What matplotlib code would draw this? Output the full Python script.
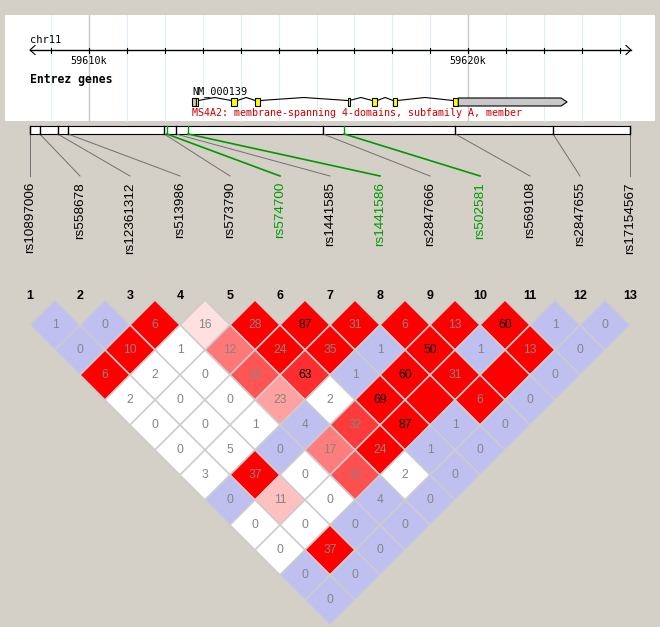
import matplotlib
matplotlib.use('Agg')
import matplotlib.pyplot as plt
from matplotlib.patches import Polygon, Rectangle

# SNPs, in LD-plot column order
snp_names = ['rs10897006', 'rs558678', 'rs12361312', 'rs513986', 'rs573790',
             'rs574700', 'rs1441585', 'rs1441586', 'rs2847666', 'rs502581',
             'rs569108', 'rs2847655', 'rs17154567']
snp_kb = [59608.44, 59608.70, 59609.17, 59609.44, 59611.98, 59612.05, 59612.29,
          59612.61, 59616.17, 59616.73, 59619.66, 59622.24, 59624.27]
tag_snps = ['rs574700', 'rs1441586', 'rs502581']

# gene track (kb)
chrom = 'chr11'
major_ticks = [59610, 59620]
minor_ticks = [59609, 59611, 59612, 59613, 59614, 59615, 59616, 59617, 59618,
               59619, 59621, 59622, 59623, 59624]
gene_id = 'NM_000139'
gene_desc = 'MS4A2: membrane-spanning 4-domains, subfamily A, member'
utr5 = (59612.72, 59612.81)
exons = [(59612.81, 59612.88), (59613.75, 59613.91), (59614.38, 59614.51),
         (59616.82, 59616.87), (59617.47, 59617.60), (59618.02, 59618.13),
         (59619.60, 59619.74)]
utr3 = (59619.74, 59622.61)

# LD per diagonal: row d holds pairs (i, i+d)
# r^2 x100 (100 is left blank)
r2_rows = [
    [1, 0, 6, 16, 28, 87, 31, 6, 13, 60, 1, 0],
    [0, 10, 1, 12, 24, 35, 1, 50, 1, 13, 0],
    [6, 2, 0, 12, 63, 1, 60, 31, 100, 0],
    [2, 0, 0, 23, 2, 69, 100, 6, 0],
    [0, 0, 1, 4, 32, 87, 1, 0],
    [0, 5, 0, 17, 24, 1, 0],
    [3, 37, 0, 12, 2, 0],
    [0, 11, 0, 4, 0],
    [0, 0, 0, 0],
    [0, 37, 0],
    [0, 0],
    [0],
]
# D' x100
dp_rows = [
    [100, 100, 100, 40, 100, 100, 100, 100, 100, 100, 100, 100],
    [100, 100, 60, 73, 100, 100, 100, 100, 100, 100, 100],
    [100, 50, 30, 81, 90, 100, 100, 100, 100, 100],
    [45, 20, 15, 64, 40, 100, 100, 100, 100],
    [10, 15, 35, 100, 87, 100, 100, 100],
    [20, 60, 100, 72, 100, 100, 100],
    [55, 100, 10, 82, 45, 100],
    [100, 57, 20, 100, 100],
    [30, 25, 100, 100],
    [40, 100, 100],
    [100, 100],
    [100],
]
# LOD >= 2
lod_rows = [
    [0, 0, 1, 1, 1, 1, 1, 1, 1, 1, 0, 0],
    [0, 1, 0, 1, 1, 1, 0, 1, 0, 1, 0],
    [1, 0, 0, 1, 1, 0, 1, 1, 1, 0],
    [0, 0, 0, 1, 0, 1, 1, 1, 0],
    [0, 0, 0, 0, 1, 1, 0, 0],
    [0, 0, 0, 1, 1, 0, 0],
    [0, 1, 0, 1, 0, 0],
    [0, 1, 0, 0, 0],
    [0, 0, 0, 0],
    [0, 1, 0],
    [0, 0],
    [0],
]

BG = '#d4d0c8'
MONO = 'DejaVu Sans Mono'
SANS = 'Liberation Sans'
GREEN = '#009900'

fig = plt.figure(figsize=(6.6, 6.27), dpi=100, facecolor=BG)
ax = fig.add_axes([0, 0, 1, 1])
ax.set_xlim(0, 660)
ax.set_ylim(627, 0)
ax.axis('off')

x_first, x_last = 30, 630
px_per_kb = (x_last - x_first) / (snp_kb[-1] - snp_kb[0])


def kb2x(kb):
    return x_first + (kb - snp_kb[0]) * px_per_kb


def col_x(i):
    return x_first + 50 * i


def ld_color(dp, strong):
    if strong:
        if dp < 50:
            return (1, 224 / 255, 224 / 255)
        g = 446 * (1 - dp / 100) / 255
        return (1, g, g)
    if dp >= 99:
        return (192 / 255, 192 / 255, 240 / 255)
    return (1, 1, 1)


# ---- gene track panel
ax.add_patch(Rectangle((5, 15), 650, 106, facecolor='white', edgecolor='none', zorder=0))
for t in minor_ticks:
    ax.plot([kb2x(t)] * 2, [15, 121], color='#dcf0f4', lw=0.8, zorder=1)
for t in major_ticks:
    ax.plot([kb2x(t)] * 2, [15, 121], color='#c8c8c8', lw=1.0, zorder=1)

ax.plot([kb2x(snp_kb[0]), kb2x(snp_kb[-1]) + 1], [50, 50], color='black', lw=1, zorder=3)
ax.plot([kb2x(snp_kb[0]) + 5, kb2x(snp_kb[0]), kb2x(snp_kb[0]) + 5], [45.5, 50, 54.5],
        color='black', lw=0.8, zorder=3)
ax.plot([kb2x(snp_kb[-1]) - 4, kb2x(snp_kb[-1]) + 1, kb2x(snp_kb[-1]) - 4], [45.5, 50, 54.5],
        color='black', lw=0.8, zorder=3)
for t in minor_ticks + major_ticks:
    ax.plot([kb2x(t)] * 2, [47.5, 52.5], color='black', lw=0.8, zorder=3)
for t in major_ticks:
    ax.text(kb2x(t), 56, '%dk' % t, family=MONO, fontsize=7.3, ha='center', va='top')

ax.text(30, 43, chrom, family=MONO, fontsize=7.5, va='baseline')
ax.text(30, 83, 'Entrez genes', family=MONO, fontsize=8.3, fontweight='bold', va='baseline')
ax.text(kb2x(utr5[0]), 94.5, gene_id, family=MONO, fontsize=7.3, va='baseline')
ax.text(kb2x(utr5[0]), 116, gene_desc, family=MONO, fontsize=7.2, va='baseline', color='#cc0000')

gy0, gy1 = 98, 106
# introns as hats
blocks = [utr5] + exons
for (a0, a1), (b0, b1) in zip(blocks[1:-1], blocks[2:]):
    xa, xb = kb2x(a1), kb2x(b0)
    ax.plot([xa, (xa + xb) / 2, xb], [100.5, 97.5, 100.5], color='black', lw=0.8, zorder=3)
ax.add_patch(Rectangle((kb2x(utr5[0]), gy0), kb2x(utr5[1]) - kb2x(utr5[0]), gy1 - gy0,
                       facecolor='#c8c8c8', edgecolor='black', lw=0.8, zorder=4))
for e0, e1 in exons:
    ax.add_patch(Rectangle((kb2x(e0), gy0), kb2x(e1) - kb2x(e0), gy1 - gy0,
                           facecolor='#ffff00', edgecolor='black', lw=0.8, zorder=4))
u0, u1 = kb2x(utr3[0]), kb2x(utr3[1])
ax.add_patch(Polygon([(u0, gy0), (u1 - 6, gy0), (u1, (gy0 + gy1) / 2), (u1 - 6, gy1), (u0, gy1)],
                     closed=True, facecolor='#c8c8c8', edgecolor='black', lw=0.8, zorder=4))

# ---- SNP map bar and connectors
ax.add_patch(Rectangle((kb2x(snp_kb[0]), 126), kb2x(snp_kb[-1]) - kb2x(snp_kb[0]), 8,
                       facecolor='white', edgecolor='black', lw=0.8, zorder=2))
for i, (name, kb) in enumerate(zip(snp_names, snp_kb)):
    tag = name in tag_snps
    c = GREEN if tag else '#707070'
    ax.plot([kb2x(kb)] * 2, [126, 134], color=GREEN if tag else 'black', lw=1.0, zorder=3)
    ax.plot([kb2x(kb), col_x(i)], [134, 176], color=c, lw=1.2 if tag else 0.7, zorder=2)
    ax.text(col_x(i), 182, name, family=SANS, fontsize=9.7, rotation=90,
            ha='center', va='top', color=GREEN if tag else 'black')
    ax.text(col_x(i), 296, str(i + 1), family=SANS, fontsize=9, fontweight='bold',
            ha='center', va='center')

# ---- LD triangle
h = 25
for d, (r2s, dps, lods) in enumerate(zip(r2_rows, dp_rows, lod_rows), start=1):
    for i, (r2, dp, lod) in enumerate(zip(r2s, dps, lods)):
        cx = (col_x(i) + col_x(i + d)) / 2
        cy = 325 + h * (d - 1)
        ax.add_patch(Polygon([(cx, cy - h), (cx + h, cy), (cx, cy + h), (cx - h, cy)],
                             closed=True, facecolor=ld_color(dp, lod),
                             edgecolor='#cdcdcd', lw=1.1, zorder=2))
        if r2 < 100:
            ax.text(cx, cy, str(r2), family=SANS, fontsize=8.7, ha='center', va='center',
                    color='black' if r2 >= 50 else '#858585', zorder=3)

fig.savefig('out.png', dpi=100, facecolor=BG)
